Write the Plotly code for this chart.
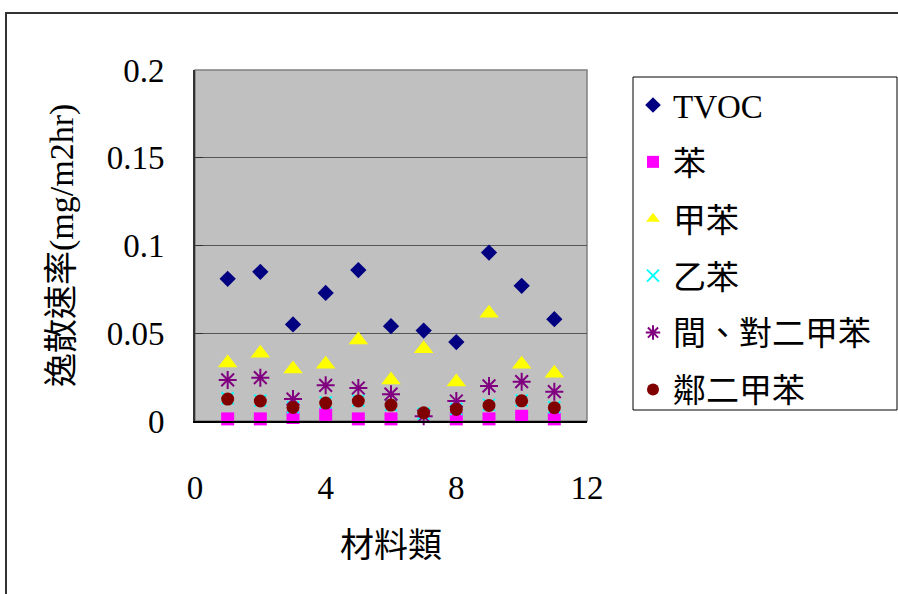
import plotly.graph_objects as go

# Material categories (x) and emission rates (mg/m2hr) per compound
materials = [1, 2, 3, 4, 5, 6, 7, 8, 9, 10, 11]
tvoc = [0.081, 0.085, 0.055, 0.073, 0.086, 0.054, 0.0515, 0.045, 0.096, 0.077, 0.058]
benzene = [0.0012, 0.0012, 0.002, 0.0038, 0.0012, 0.0012, None, 0.0012, 0.0012, 0.0027, 0.0012]
toluene = [0.033, 0.0386, 0.0296, 0.0323, 0.0461, 0.0234, 0.0412, 0.0222, 0.0614, 0.0323, 0.0272]
ethylbenzene = [0.013, 0.0116, 0.0078, 0.0105, 0.0116, 0.0092, 0.0042, 0.0068, 0.0092, 0.0117, 0.0078]
mp_xylene = [0.0234, 0.0247, 0.0125, 0.0203, 0.0188, 0.0153, 0.0027, 0.0114, 0.02, 0.0224, 0.0167]
o_xylene = [0.0125, 0.0114, 0.0077, 0.0102, 0.0114, 0.0091, 0.0047, 0.0066, 0.0089, 0.0115, 0.0076]

series_names = ["TVOC", "苯", "甲苯", "乙苯", "間、對二甲苯", "鄰二甲苯"]
x_ticks = [0, 4, 8, 12]
y_ticks = [0, 0.05, 0.1, 0.15, 0.2]
y_tick_text = ["0", "0.05", "0.1", "0.15", "0.2"]

FONT = "Liberation Serif, Noto Sans CJK TC, serif"

styles = [
    dict(symbol="diamond", size=12.5, color="#000080"),
    dict(symbol="square", size=13, color="#FF00FF"),
    dict(symbol="triangle-up", size=17, color="#FFFF00"),
    dict(symbol="x-thin", size=12, color="#00FFFF", line=dict(color="#00FFFF", width=2)),
    dict(symbol="asterisk", size=15, color="#800080", line=dict(color="#800080", width=2)),
    dict(symbol="circle", size=13, color="#800000"),
]
values = [tvoc, benzene, toluene, ethylbenzene, mp_xylene, o_xylene]

fig = go.Figure()
for name, ys, st in zip(series_names, values, styles):
    fig.add_trace(go.Scatter(
        x=materials, y=ys, mode="markers", name=name,
        legendgroup=name, marker=st, cliponaxis=False,
    ))

W, H = 898, 594
L, R, T, B = 195, 587, 70, 421
pw, ph = R - L, B - T

def px_x(p):
    return (p - L) / pw

def px_y(p):
    return (B - p) / ph

fig.update_layout(
    width=W, height=H,
    margin=dict(l=L, r=W - R, t=T, b=H - B, pad=0),
    paper_bgcolor="white",
    plot_bgcolor="#C0C0C0",
    font=dict(family=FONT, size=33, color="black"),
    showlegend=True,
    legend=dict(
        x=px_x(633), xanchor="left", y=px_y(77), yanchor="top",
        bgcolor="rgba(0,0,0,0)", borderwidth=0,
        font=dict(family=FONT, size=33, color="black"),
        tracegroupgap=11, itemsizing="constant",
        maxheight=500,
    ),
    xaxis=dict(
        range=[0, 12], tickvals=x_ticks, showgrid=False, zeroline=False,
        showline=True, linecolor="black", linewidth=2,
        ticks="", ticklabelstandoff=36,
        tickfont=dict(family=FONT, size=33),
    ),
    yaxis=dict(
        range=[0, 0.2], tickvals=y_ticks, ticktext=y_tick_text,
        showgrid=True, gridcolor="#555555", gridwidth=1, zeroline=False,
        showline=True, linecolor="#333333", linewidth=2,
        ticks="inside", ticklen=8, tickcolor="#333333",
        ticklabelstandoff=22,
        tickfont=dict(family=FONT, size=33),
    ),
    shapes=[
        # plot frame
        dict(type="rect", xref="paper", yref="paper", x0=0, x1=1, y0=0, y1=1,
             line=dict(color="#808080", width=1.5), layer="below"),
        # outer chart border
        dict(type="rect", xref="paper", yref="paper",
             x0=px_x(6), x1=px_x(W + 20), y0=px_y(13), y1=px_y(H + 20),
             line=dict(color="#333333", width=2)),
        # legend box
        dict(type="rect", xref="paper", yref="paper",
             x0=px_x(633), x1=px_x(897), y0=px_y(410), y1=px_y(77),
             line=dict(color="black", width=1), fillcolor="white", layer="below"),
    ],
    annotations=[
        dict(text="逸散速率(mg/m2hr)", textangle=-90, xref="paper", yref="paper",
             x=px_x(62), y=px_y(246), xanchor="center", yanchor="middle",
             showarrow=False, font=dict(family=FONT, size=34)),
        dict(text="材料類", xref="paper", yref="paper",
             x=px_x(391), y=px_y(545), xanchor="center", yanchor="middle",
             showarrow=False, font=dict(family=FONT, size=34)),
    ],
)

fig.write_html("out.html")
